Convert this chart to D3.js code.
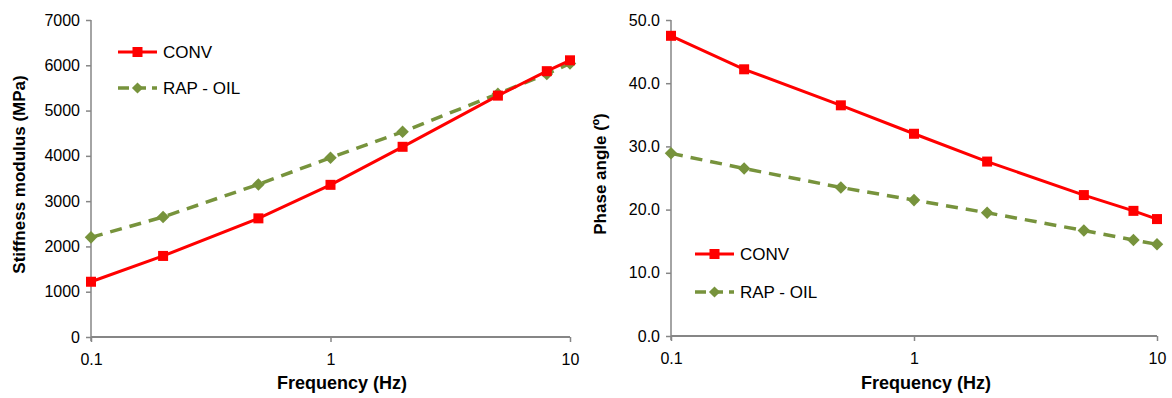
<!DOCTYPE html>
<html>
<head>
<meta charset="utf-8">
<script src="https://cdn.jsdelivr.net/npm/d3@7"></script>
<style>
  body { margin: 0; background: #fff; }
  svg text { font-family: "Liberation Sans", Arial, sans-serif; fill: #000; }
</style>
</head>
<body>
<svg id="chart" width="1172" height="398"></svg>
<script>
// Frequencies shared by both panels
const frequencies = [0.1, 0.2, 0.5, 1, 2, 5, 8, 10];
const xTicks = [0.1, 1, 10];

const seriesNames = ["CONV", "RAP - OIL"];

// Stiffness modulus (MPa)
const stiffnessConv = [1220, 1790, 2620, 3360, 4200, 5330, 5870, 6110];
const stiffnessRap = [2200, 2650, 3370, 3960, 4530, 5370, 5810, 6040];
const stiffnessTicks = [0, 1000, 2000, 3000, 4000, 5000, 6000, 7000];

// Phase angle (º)
const phaseConv = [47.5, 42.2, 36.5, 32.0, 27.6, 22.3, 19.8, 18.5];
const phaseRap = [28.9, 26.5, 23.5, 21.5, 19.5, 16.7, 15.2, 14.5];
const phaseTicks = [0, 10, 20, 30, 40, 50];

const svg = d3.select("#chart");
const axisColor = "#868686";
const red = "#ff0000";
const green = "#77933c";

function drawPanel(opts) {
  const { left, right, top, bottom, yMax, yTicks, yFmt, conv, rap, yTitle, titleX, xTitleX, legend } = opts;

  const x = d3.scaleLog().domain([0.1, 10]).range([left, right]);
  const y = d3.scaleLinear().domain([0, yMax]).range([bottom, top]);

  const g = svg.append("g");

  // y axis
  const yAxis = g.append("g")
    .attr("transform", `translate(${left},0)`)
    .call(d3.axisLeft(y).tickValues(yTicks).tickFormat(yFmt).tickSize(5).tickPadding(6));
  yAxis.select(".domain").attr("stroke", axisColor).attr("stroke-width", 1.5)
    .attr("d", `M0,${top}V${bottom + 4}`);
  yAxis.selectAll(".tick line").attr("stroke", axisColor).attr("stroke-width", 1.5);
  yAxis.selectAll(".tick text").style("font-size", "16px").attr("fill", "#000");

  // x axis
  const xAxis = g.append("g")
    .attr("transform", `translate(0,${bottom})`)
    .call(d3.axisBottom(x).tickValues(xTicks).tickFormat(d3.format("")).tickSize(5).tickPadding(12));
  xAxis.select(".domain").attr("stroke", axisColor).attr("stroke-width", 2)
    .attr("d", `M${left},0H${right}`);
  xAxis.selectAll(".tick line").attr("stroke", axisColor).attr("stroke-width", 1.5);
  xAxis.selectAll(".tick text").style("font-size", "16px").attr("fill", "#000");

  // axis titles
  g.append("text")
    .attr("x", xTitleX).attr("y", 389)
    .attr("text-anchor", "middle")
    .style("font-size", "18px").style("font-weight", "bold")
    .text("Frequency (Hz)");
  g.append("text")
    .attr("transform", `translate(${titleX},${(top + bottom) / 2 - 4}) rotate(-90)`)
    .attr("text-anchor", "middle")
    .style("font-size", "17px").style("font-weight", "bold")
    .text(yTitle);

  const line = d3.line().x((d, i) => x(frequencies[i])).y(d => y(d));

  // RAP - OIL (dashed, diamonds)
  g.append("path").datum(rap)
    .attr("d", line).attr("fill", "none")
    .attr("stroke", green).attr("stroke-width", 3.5)
    .attr("stroke-dasharray", "12,8");
  g.selectAll(".rap").data(rap).enter().append("path")
    .attr("d", d3.symbol().type(d3.symbolDiamond2).size(100))
    .attr("transform", (d, i) => `translate(${x(frequencies[i])},${y(d)})`)
    .attr("fill", green);

  // CONV (solid, squares)
  g.append("path").datum(conv)
    .attr("d", line).attr("fill", "none")
    .attr("stroke", red).attr("stroke-width", 3);
  g.selectAll(".conv").data(conv).enter().append("rect")
    .attr("x", (d, i) => x(frequencies[i]) - 5)
    .attr("y", d => y(d) - 5)
    .attr("width", 10).attr("height", 10)
    .attr("fill", red);

  // legend
  const lg = g.append("g").attr("transform", `translate(${legend.x},${legend.y})`);
  lg.append("line").attr("x1", 0).attr("x2", 39).attr("y1", 0).attr("y2", 0)
    .attr("stroke", red).attr("stroke-width", 3);
  lg.append("rect").attr("x", 14.5).attr("y", -5).attr("width", 10).attr("height", 10).attr("fill", red);
  lg.append("text").attr("x", 45).attr("y", 0).attr("dy", "0.36em")
    .style("font-size", "17px").text(seriesNames[0]);

  const l2 = lg.append("g").attr("transform", `translate(0,${legend.gap})`);
  l2.append("line").attr("x1", 0).attr("x2", 39).attr("y1", 0).attr("y2", 0)
    .attr("stroke", green).attr("stroke-width", 3.5).attr("stroke-dasharray", "11,6");
  l2.append("path").attr("d", d3.symbol().type(d3.symbolDiamond2).size(80))
    .attr("transform", "translate(19.5,0)").attr("fill", green);
  l2.append("text").attr("x", 45).attr("y", 0).attr("dy", "0.36em")
    .style("font-size", "17px").text(seriesNames[1]);
}

drawPanel({
  left: 91, right: 570, top: 20, bottom: 337,
  yMax: 7000, yTicks: stiffnessTicks, yFmt: d3.format("d"),
  conv: stiffnessConv, rap: stiffnessRap,
  yTitle: "Stiffness modulus (MPa)", titleX: 25, xTitleX: 342,
  legend: { x: 118, y: 52, gap: 36 }
});

drawPanel({
  left: 671, right: 1157, top: 20, bottom: 336,
  yMax: 50, yTicks: phaseTicks, yFmt: d3.format(".1f"),
  conv: phaseConv, rap: phaseRap,
  yTitle: "Phase angle (º)", titleX: 606, xTitleX: 926,
  legend: { x: 695, y: 254, gap: 38 }
});
</script>
</body>
</html>
